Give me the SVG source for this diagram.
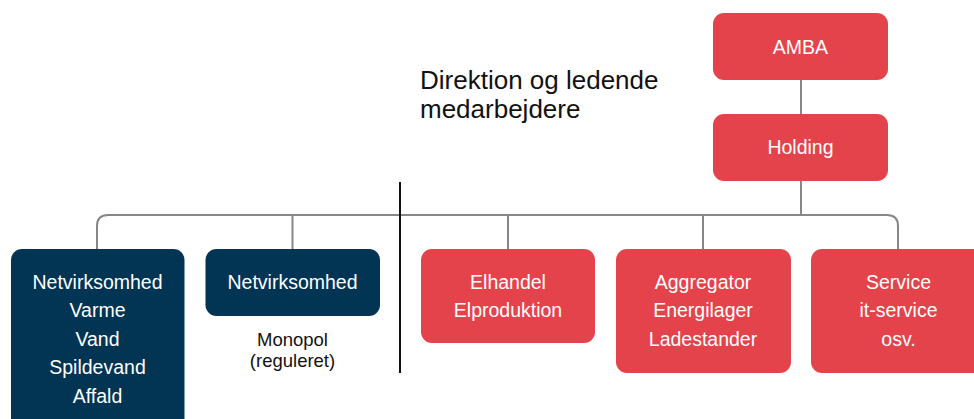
<svg xmlns="http://www.w3.org/2000/svg" width="974" height="419" viewBox="0 0 974 419">
<style>
.red{fill:#E5434B}
.navy{fill:#023453}
.t{font-family:"Liberation Sans",Arial,sans-serif;font-size:19.5px;fill:#fff;text-anchor:middle}
.d{font-family:"Liberation Sans",Arial,sans-serif;font-size:18.5px;fill:#111;text-anchor:middle}
.h{font-family:"Liberation Sans",Arial,sans-serif;font-size:26px;fill:#111}
.conn{fill:none;stroke:#878787;stroke-width:2}
</style>
<rect width="974" height="419" fill="#fff"/>
<g id="connectors">
<path class="conn" d="M801 80V114M801 181V215M97 249V226Q97 215 108 215H887Q898 215 898 226V249M292.5 215V249M508 215V249M703 215V249"/>
<line x1="400" y1="182" x2="400" y2="373" stroke="#111" stroke-width="2"/>
</g>
<g id="title"><text class="h" x="420" y="89">Direktion og ledende</text><text class="h" x="420" y="118">medarbejdere</text></g>
<g id="amba"><rect class="red" x="713" y="13" width="175" height="67" rx="11"/><text class="t" x="800.5" y="53.5">AMBA</text></g>
<g id="holding"><rect class="red" x="713" y="114" width="175" height="67" rx="11"/><text class="t" x="800.5" y="154">Holding</text></g>
<g id="net1"><rect class="navy" x="11" y="249" width="173.5" height="185" rx="11"/>
<text class="t" x="97.5" y="288.5">Netvirksomhed</text><text class="t" x="97.5" y="317">Varme</text><text class="t" x="97.5" y="345.5">Vand</text><text class="t" x="97.5" y="374">Spildevand</text><text class="t" x="97.5" y="402.5">Affald</text></g>
<g id="net2"><rect class="navy" x="205.5" y="249" width="174.5" height="67" rx="11"/><text class="t" x="292.5" y="288.5">Netvirksomhed</text></g>
<g id="monopol"><text class="d" x="292.5" y="345.5">Monopol</text><text class="d" x="292.5" y="366.5">(reguleret)</text></g>
<g id="elhandel"><rect class="red" x="421" y="249" width="174" height="94" rx="11"/><text class="t" x="508" y="288.5">Elhandel</text><text class="t" x="508" y="317">Elproduktion</text></g>
<g id="aggregator"><rect class="red" x="616" y="249" width="175" height="124" rx="11"/><text class="t" x="703" y="288.5">Aggregator</text><text class="t" x="703" y="317">Energilager</text><text class="t" x="703" y="345.5">Ladestander</text></g>
<g id="service"><rect class="red" x="811" y="249" width="175" height="124" rx="11"/><text class="t" x="898.5" y="288.5">Service</text><text class="t" x="898.5" y="317">it-service</text><text class="t" x="898.5" y="345.5">osv.</text></g>
</svg>
